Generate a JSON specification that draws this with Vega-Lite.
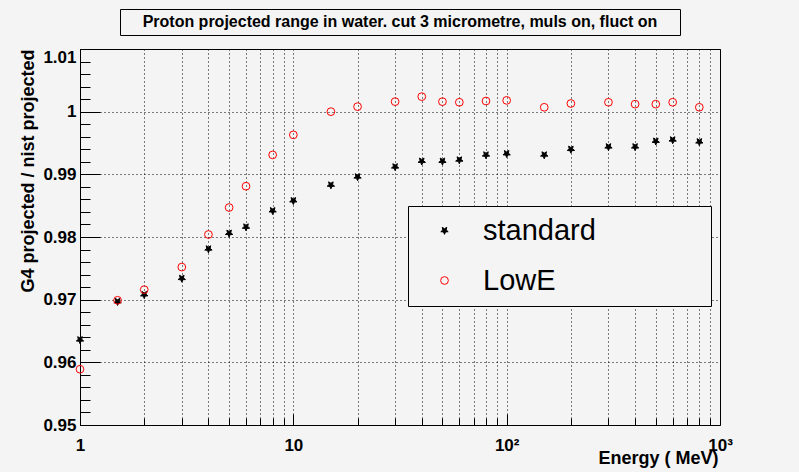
{
  "$schema": "https://vega.github.io/schema/vega-lite/v6.json",
  "autosize": {"type": "pad"},
  "padding": {"left": 18, "top": 8, "right": 66, "bottom": 6},
  "background": "#f4f4f4",
  "config": {
    "view": {"stroke": "black", "strokeWidth": 1, "fill": "#f4f4f4"},
    "font": "Liberation Sans",
    "axis": {
      "labelFont": "Liberation Sans",
      "labelFontWeight": "bold",
      "labelFontSize": 17,
      "labelColor": "black",
      "titleFont": "Liberation Sans",
      "titleFontWeight": "bold",
      "titleFontSize": 18,
      "titleColor": "black",
      "tickColor": "black",
      "tickWidth": 1,
      "domain": false,
      "grid": true,
      "gridColor": "black",
      "gridDash": [1, 3],
      "gridWidth": 1,
      "labelFlush": false,
      "labelOverlap": false
    }
  },
  "datasets": {
    "heading": [
      {"label": "Proton projected range in water. cut 3 micrometre, muls on, fluct on"}
    ],
    "ranges": [
      {"energy": 1, "ratio": 0.9636, "model": "standard"},
      {"energy": 1.5, "ratio": 0.9697, "model": "standard"},
      {"energy": 2, "ratio": 0.9708, "model": "standard"},
      {"energy": 3, "ratio": 0.9734, "model": "standard"},
      {"energy": 4, "ratio": 0.9781, "model": "standard"},
      {"energy": 5, "ratio": 0.9806, "model": "standard"},
      {"energy": 6, "ratio": 0.9816, "model": "standard"},
      {"energy": 8, "ratio": 0.9842, "model": "standard"},
      {"energy": 10, "ratio": 0.9858, "model": "standard"},
      {"energy": 15, "ratio": 0.9883, "model": "standard"},
      {"energy": 20, "ratio": 0.9896, "model": "standard"},
      {"energy": 30, "ratio": 0.9912, "model": "standard"},
      {"energy": 40, "ratio": 0.9921, "model": "standard"},
      {"energy": 50, "ratio": 0.9921, "model": "standard"},
      {"energy": 60, "ratio": 0.9923, "model": "standard"},
      {"energy": 80, "ratio": 0.9931, "model": "standard"},
      {"energy": 100, "ratio": 0.9933, "model": "standard"},
      {"energy": 150, "ratio": 0.9931, "model": "standard"},
      {"energy": 200, "ratio": 0.994, "model": "standard"},
      {"energy": 300, "ratio": 0.9944, "model": "standard"},
      {"energy": 400, "ratio": 0.9944, "model": "standard"},
      {"energy": 500, "ratio": 0.9953, "model": "standard"},
      {"energy": 600, "ratio": 0.9955, "model": "standard"},
      {"energy": 800, "ratio": 0.9952, "model": "standard"},
      {"energy": 1, "ratio": 0.9589, "model": "LowE"},
      {"energy": 1.5, "ratio": 0.9699, "model": "LowE"},
      {"energy": 2, "ratio": 0.9716, "model": "LowE"},
      {"energy": 3, "ratio": 0.9752, "model": "LowE"},
      {"energy": 4, "ratio": 0.9804, "model": "LowE"},
      {"energy": 5, "ratio": 0.9847, "model": "LowE"},
      {"energy": 6, "ratio": 0.9881, "model": "LowE"},
      {"energy": 8, "ratio": 0.9931, "model": "LowE"},
      {"energy": 10, "ratio": 0.9963, "model": "LowE"},
      {"energy": 15, "ratio": 1.0, "model": "LowE"},
      {"energy": 20, "ratio": 1.0008, "model": "LowE"},
      {"energy": 30, "ratio": 1.0016, "model": "LowE"},
      {"energy": 40, "ratio": 1.0024, "model": "LowE"},
      {"energy": 50, "ratio": 1.0016, "model": "LowE"},
      {"energy": 60, "ratio": 1.0015, "model": "LowE"},
      {"energy": 80, "ratio": 1.0017, "model": "LowE"},
      {"energy": 100, "ratio": 1.0018, "model": "LowE"},
      {"energy": 150, "ratio": 1.0007, "model": "LowE"},
      {"energy": 200, "ratio": 1.0013, "model": "LowE"},
      {"energy": 300, "ratio": 1.0015, "model": "LowE"},
      {"energy": 400, "ratio": 1.0012, "model": "LowE"},
      {"energy": 500, "ratio": 1.0012, "model": "LowE"},
      {"energy": 600, "ratio": 1.0015, "model": "LowE"},
      {"energy": 800, "ratio": 1.0007, "model": "LowE"}
    ]
  },
  "spacing": 14,
  "bounds": "flush",
  "center": true,
  "vconcat": [
    {
      "width": 560,
      "height": 26,
      "view": {"stroke": "black", "strokeWidth": 1, "fill": "#f4f4f4"},
      "data": {"name": "heading"},
      "mark": {"type": "text", "font": "Liberation Sans", "fontWeight": "bold", "fontSize": 16, "color": "black"},
      "encoding": {"text": {"field": "label", "type": "nominal"}}
    },
    {
      "width": 640,
      "height": 376,
      "data": {"name": "ranges"},
      "mark": {"type": "point", "size": 60, "strokeWidth": 1, "opacity": 1},
      "encoding": {
        "x": {
          "field": "energy",
          "type": "quantitative",
          "scale": {"type": "log", "domain": [1, 1000], "nice": false},
          "axis": {
            "values": [1, 2, 3, 4, 5, 6, 7, 8, 9, 10, 20, 30, 40, 50, 60, 70, 80, 90, 100, 200, 300, 400, 500, 600, 700, 800, 900, 1000],
            "labelExpr": "datum.value == 1 ? '1' : datum.value == 10 ? '10' : datum.value == 100 ? '10²' : datum.value == 1000 ? '10³' : ''",
            "tickSize": {"condition": {"test": "abs(log(datum.value) / LN10 - round(log(datum.value) / LN10)) < 0.001", "value": -11}, "value": -7},
            "labelBaseline": "alphabetic",
            "labelPadding": 36,
            "title": "Energy ( MeV)",
            "titleAnchor": "end",
            "titleAlign": "right",
            "titleBaseline": "alphabetic",
            "titleX": 638,
            "titleY": 38
          }
        },
        "y": {
          "field": "ratio",
          "type": "quantitative",
          "scale": {"domain": [0.95, 1.01], "nice": false, "zero": false},
          "axis": {
            "values": [0.95, 0.952, 0.954, 0.956, 0.958, 0.96, 0.962, 0.964, 0.966, 0.968, 0.97, 0.972, 0.974, 0.976, 0.978, 0.98, 0.982, 0.984, 0.986, 0.988, 0.99, 0.992, 0.994, 0.996, 0.998, 1.0, 1.002, 1.004, 1.006, 1.008, 1.01],
            "labelExpr": "abs(datum.value * 100 - round(datum.value * 100)) < 0.001 ? format(datum.value, '.3~g') : ''",
            "tickSize": {"condition": {"test": "abs(datum.value * 100 - round(datum.value * 100)) < 0.001", "value": -20}, "value": -10},
            "gridOpacity": {"condition": {"test": "abs(datum.value * 100 - round(datum.value * 100)) < 0.001", "value": 1}, "value": 0},
            "labelBaseline": {"condition": {"test": "datum.value > 1.005", "value": "top"}, "value": "middle"},
            "labelAlign": "right",
            "labelPadding": 24,
            "title": "G4 projected /  nist projected",
            "titleAngle": 270,
            "titleAlign": "right",
            "titleBaseline": "middle",
            "titleX": -52,
            "titleY": 0
          }
        },
        "shape": {
          "field": "model",
          "type": "nominal",
          "scale": {
            "domain": ["standard", "LowE"],
            "range": ["M0,1L-0.265,0.364L-0.951,0.309L-0.428,-0.139L-0.588,-0.809L0,-0.45L0.588,-0.809L0.428,-0.139L0.951,0.309L0.265,0.364Z", "circle"]
          },
          "legend": {
            "orient": "none",
            "legendX": 328,
            "legendY": 197,
            "title": null,
            "padding": 10,
            "rowPadding": 20,
            "symbolSize": 60,
            "symbolStrokeWidth": 1,
            "symbolOffset": 12,
            "labelOffset": 24,
            "labelFont": "Liberation Sans",
            "labelFontSize": 29,
            "labelFontWeight": "normal",
            "labelLimit": 500,
            "labelExpr": "datum.label == 'standard' ? datum.label + '\u2800\u2800\u2800\u2800\u2800' : datum.label",
            "fillColor": "#f4f4f4",
            "strokeColor": "black",
            "encode": {
              "labels": {
                "update": {
                  "fill": {"signal": "datum.value == 'LowE' ? '#ff0000' : '#000000'"}
                }
              }
            }
          }
        },
        "stroke": {
          "field": "model",
          "type": "nominal",
          "scale": {"domain": ["standard", "LowE"], "range": ["#000000", "#ff0000"]}
        },
        "fill": {
          "field": "model",
          "type": "nominal",
          "scale": {"domain": ["standard", "LowE"], "range": ["#000000", "transparent"]}
        }
      }
    }
  ]
}
